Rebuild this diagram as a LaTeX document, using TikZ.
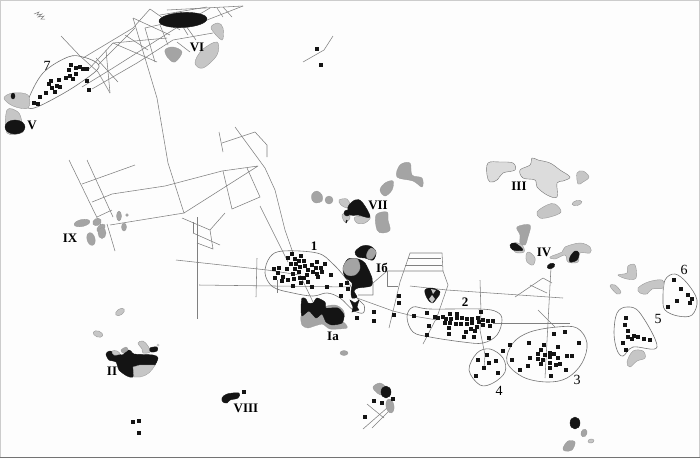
\documentclass[tikz,border=0pt]{standalone}
\usepackage{fontspec}
\setmainfont{Liberation Serif}
\definecolor{paper}{HTML}{FDFDFD}
\definecolor{roadc}{HTML}{808080}
\definecolor{palec}{HTML}{DCDCDC}
\definecolor{lightc}{HTML}{C6C6C6}
\definecolor{midc}{HTML}{A4A4A4}
\definecolor{inkc}{HTML}{141414}
\tikzset{
  road/.style={draw=roadc,line width=0.55pt,line join=round},
  contour/.style={draw=black!55,line width=0.6pt},
  pale/.style={fill=palec,draw=black!55,line width=0.4pt},
  light/.style={fill=lightc,draw=black!40,line width=0.4pt},
  mid/.style={fill=midc,draw=black!40,line width=0.3pt},
  ink/.style={fill=inkc,draw=inkc,line width=0.4pt},
  sq/.style={fill=inkc,draw=none},
  roman/.style={font=\fontsize{13}{13}\selectfont\bfseries,text=black,inner sep=0pt},
  digit/.style={font=\fontsize{14}{14}\selectfont,text=black,inner sep=0pt},
  digitb/.style={font=\fontsize{13}{13}\selectfont\bfseries,text=black,inner sep=0pt}
}
\newcommand{\blobby}[2]{\path[#1] plot[smooth cycle,tension=0.6] coordinates {#2};}
\begin{document}
\begin{tikzpicture}[x=1pt,y=-1pt]
\useasboundingbox (0,0) rectangle (700,459);
\fill[paper] (0,0) rectangle (700,459);
\draw[black!20,line width=1pt] (0.5,458) -- (0.5,0.5) -- (699.5,0.5) -- (699.5,458);
\draw[black!55,line width=1pt] (0,457.5) -- (700,457.5);
% scribble
\draw[black!50,line width=0.5pt] (34,14) -- (39,12) -- (37,15) -- (42,14) -- (38,17) -- (44,16) -- (41,19) -- (45,19);
% roads NW
\draw[road] (61,36) -- (80,56) -- (98,72) -- (110,93);
\draw[road] (133,18) -- (157,98) -- (168,163) -- (184,213) -- (258,166) -- (222,171) -- (165,186) -- (112,194) -- (92,202);
\draw[road] (184,213) -- (110,225);
\draw[road] (69,160) -- (103,230);
\draw[road] (87,160) -- (113,217);
\draw[road] (82,184) -- (135,165);
\draw[road] (97,217) -- (112,210);
\draw[road] (219,132) -- (223,152);
\draw[road] (222,143) -- (255,132) -- (267,145) -- (267,157);
\draw[road] (235,127) -- (265,168) -- (275,190) -- (285,230) -- (293,253);
\draw[road] (247,168) -- (260,197) -- (232,209) -- (223,171);
\draw[road] (260,206) -- (272,230) -- (288,262);
\draw[road] (182,218) -- (210,230) -- (225,213);
\draw[road] (197,217) -- (197,319);
\draw[road] (193,233) -- (220,245);
\draw[road] (197,243) -- (213,249) -- (210,230);
\draw[road] (193,222) -- (193,233);
\draw[road] (176,260) -- (267,270) -- (300,275);
\draw[road] (199,285) -- (350,287);
\draw[road] (257,258) -- (256,297);
\draw[road] (277,280) -- (277,293);
\draw[road] (300,275) -- (313,302);
% roads NE corridor
\draw[road] (83,58) -- (133,28) -- (150,9) -- (180,30);
\draw[road] (82,87) -- (113,68) -- (173,30) -- (210,8);
\draw[road] (92,89) -- (137,63) -- (173,40) -- (213,33);
\draw[road] (98,65) -- (135,28);
\draw[road] (88,70) -- (113,43) -- (167,38);
\draw[road] (113,43) -- (157,62);
\draw[road] (106,50) -- (110,93);
\draw[road] (133,18) -- (170,35);
\draw[road] (145,28) -- (155,62);
\draw[road] (145,28) -- (167,23);
\draw[road] (167,10) -- (243,6);
\draw[road] (160,15) -- (207,7);
\draw[road] (207,20) -- (243,6);
\draw[road] (217,8) -- (223,17);
\draw[road] (223,7) -- (232,17);
\draw[road] (183,27) -- (188,35);
\draw[road] (177,42) -- (190,52);
\draw[road] (96,58) -- (118,82);
\draw[road] (125,35) -- (148,50);
\draw[road] (160,25) -- (168,45);
\draw[road] (176,12) -- (196,40);
\draw[road] (303,62) -- (324,50) -- (333,36);
% roads E
\draw[road] (358,295) -- (373,295) -- (373,283) -- (387,271) -- (443,271);
\draw[road] (387,271) -- (387,286) -- (398,286);
\draw[road] (410,286) -- (447,290) -- (563,298);
\draw[road] (442,253) -- (410,253) -- (400,282) -- (389,328);
\draw[road] (442,253) -- (443,271) -- (448,285) -- (437,317) -- (423,344);
\draw[road] (408,258) -- (441,258);
\draw[road] (405,265) -- (442,265);
\draw[road] (480,280) -- (481,312) -- (480,330) -- (485,355) -- (484,368);
\draw[road] (357,298) -- (393,311) -- (413,316) -- (437,320);
\draw[road] (493,323) -- (570,323);
\draw[road] (551,267) -- (545,378);
\draw[road] (538,310) -- (555,327);
\draw[road] (515,297) -- (543,278) -- (552,283);
\draw[road] (530,285) -- (547,293);
\draw[road] (363,429) -- (387,408);
\draw[road] (372,428) -- (393,407);
\draw[road] (367,404) -- (384,418);
\draw[road] (107,224) -- (115,251);
% contours
\draw[contour] plot[smooth cycle,tension=0.6] coordinates {(28,100)(43,73)(68,57)(83,57)(97,63)(97,70)(77,85)(57,97)(37,107)(28,108)};
\draw[contour] plot[smooth cycle,tension=0.6] coordinates {(265,273)(270,257)(283,251)(317,253)(332,263)(347,280)(357,298)(364,305)(363,313)(353,310)(340,298)(327,293)(313,296)(293,293)(273,287)};
\draw[contour] plot[smooth cycle,tension=0.6] coordinates {(407,317)(413,307)(430,309)(480,309)(497,312)(502,320)(497,335)(483,343)(463,342)(430,337)(413,332)};
\draw[contour] plot[smooth cycle,tension=0.6] coordinates {(507,362)(513,343)(530,332)(557,327)(577,328)(587,343)(582,363)(567,378)(547,382)(523,377)};
\draw[contour] plot[smooth cycle,tension=0.6] coordinates {(469,370)(477,353)(490,349)(503,358)(505,372)(493,383)(480,385)};
\draw[contour] plot[smooth cycle,tension=0.6] coordinates {(614,333)(617,313)(627,307)(640,313)(657,347)(633,347)(623,356)(617,350)};
\draw[contour] plot[smooth cycle,tension=0.6] coordinates {(663,298)(665,280)(675,274)(687,283)(697,300)(692,315)(678,316)(665,310)};
% VI
\path[ink,rotate around={3:(183,20)}] (183,20) ellipse (24 and 7.5);
\blobby{light}{(211,28)(218,23)(223,28)(222,40)}
\blobby{light}{(195,63)(202,50)(217,42)(217,55)(203,68)}
\blobby{mid}{(165,50)(173,47)(182,52)(175,62)(168,58)}
% V
\blobby{light}{(4,98)(13,93)(28,95)(28,108)(13,106)}
\path[ink] (13,96) ellipse (2 and 3);
\blobby{light}{(7,110)(18,112)(22,122)(23,132)(7,133)}
\path[ink] (15,127) ellipse (10 and 7);
% IX
\path[mid,rotate around={12:(82,223)}] (82,223) ellipse (8 and 3.5);
\path[mid,rotate around={30:(97,222)}] (97,222) ellipse (4.5 and 3.5);
\path[mid,rotate around={40:(101,228)}] (101,228) ellipse (5 and 3);
\path[mid] (119,216) ellipse (2.5 and 5);
\path[mid] (124,227) ellipse (2.5 and 4);
\path[mid] (127,215) circle (1.5);
\path[mid,rotate around={15:(91,239)}] (91,239) ellipse (4 and 6.5);
\path[mid] (102,233) ellipse (4 and 5.5);
% VII
\blobby{mid}{(312,194)(317,191)(322,195)(322,201)(316,203)(312,200)}
\path[mid] (329,200) circle (4);
\blobby{mid}{(397,177)(400,165)(410,163)(412,175)(422,178)(422,187)(413,181)}
\blobby{mid}{(380,190)(385,183)(393,181)(392,190)(385,196)}
\blobby{light}{(339,200)(347,199)(350,205)(347,208)(341,205)}
\blobby{light}{(355,217)(370,217)(365,223)(357,223)}
\blobby{ink}{(348,207)(355,200)(362,202)(370,217)(358,215)(350,215)}
\blobby{light}{(342,215)(347,212)(350,218)(345,222)}
\path[ink] (347,213) circle (3);
\draw[inkc,line width=1.2pt] (347,220) -- (346,223);
\blobby{mid}{(376,215)(387,212)(388,220)(390,230)(383,233)(377,230)}
% III
\blobby{pale}{(488,163)(500,162)(513,163)(515,170)(503,173)(497,180)(490,182)(487,175)}
\blobby{pale}{(520,170)(530,165)(532,158)(538,160)(550,163)(560,170)(570,177)(563,181)(557,183)(557,197)(547,195)(537,187)(535,180)(523,178)}
\blobby{light}{(577,173)(583,171)(589,177)(583,182)(578,184)}
\path[light,rotate around={15:(577,203)}] (577,203) ellipse (5 and 2.5);
\blobby{light}{(537,212)(547,205)(555,204)(561,212)(550,217)(540,218)}
% IV group
\blobby{mid}{(517,227)(530,225)(528,237)(525,245)(520,243)(520,235)}
\blobby{light}{(514,243)(522,245)(524,252)(515,252)}
\blobby{ink}{(510,245)(515,243)(523,250)(513,250)}
\blobby{light}{(526,255)(529,252)(535,258)(533,265)(527,262)}
\blobby{light}{(550,257)(562,252)(565,247)(580,243)(590,247)(590,253)(580,253)(578,262)(568,262)(565,255)(555,259)}
\blobby{ink}{(570,257)(575,251)(579,253)(577,260)(570,262)}
\path[ink,rotate around={25:(551,266)}] (551,266) ellipse (4 and 2.5);
% right
\blobby{light}{(618,275)(627,273)(628,266)(635,265)(636,278)(627,279)}
\blobby{light}{(610,286)(615,285)(621,292)(617,294)}
\blobby{light}{(638,288)(648,282)(662,280)(663,288)(652,289)(647,294)(640,293)}
\blobby{light}{(627,362)(633,351)(643,351)(645,358)(637,361)(630,367)}
\path[ink] (575,423) ellipse (5 and 6);
\path[mid,rotate around={-20:(584,433)}] (584,433) ellipse (3 and 4);
\path[light,rotate around={10:(591,441)}] (591,441) ellipse (3 and 2);
\blobby{mid}{(563,448)(568,441)(575,442)(572,450)(565,451)}
% lower middle group
\blobby{mid}{(373,387)(380,383)(386,388)(383,395)(377,393)}
\path[ink] (386,392) ellipse (5 and 6);
\path[mid,rotate around={10:(390,406)}] (390,406) ellipse (4 and 7);
\path[mid] (344,353) ellipse (4 and 2.5);
% II
\path[light,rotate around={35:(120,312)}] (120,312) ellipse (5 and 3);
\path[light,rotate around={-20:(98,334)}] (98,334) ellipse (5 and 3);
\path[ink] plot[smooth cycle,tension=0.45] coordinates {(106,354)(110,351)(122,355)(127,350)(131,351)(134,354)(153,355)(158,358)(153,367)(140,366)(134,368)(133,377)(127,376)(119,370)(116,362)(109,360)};
\path[fill=lightc,draw=black!40,line width=0.3pt] (133,367) -- (140,365) -- (155,365) .. controls (152,371) and (147,376) .. (140,377) -- (134,377) -- cycle;
\blobby{light}{(112,351)(117,351)(120,354)(114,355)}
\blobby{mid}{(121,350)(126,347)(128,350)(123,353)}
\blobby{light}{(138,343)(143,341)(148,346)(150,352)(143,353)(142,349)}
\blobby{ink}{(150,348)(157,347)(157,351)(151,352)}
\path[fill=lightc] (158,345) circle (1.5);
% VIII
\blobby{ink}{(222,398)(227,394)(239,393)(238,398)(230,400)(227,403)(223,402)}
% Ia
\path[mid] plot[smooth cycle,tension=0.4] coordinates {(301,316)(309,309)(316,316)(322,312)(328,322)(343,322)(347,328)(330,329)(322,324)(308,328)(302,325)};
\blobby{mid}{(325,307)(335,305)(343,310)(344,317)(337,309)}
\path[ink,line join=round] plot[smooth cycle,tension=0.4] coordinates {(302,298)(306,299)(308,303)(313,303)(317,298)(325,302)(326,308)(338,308)(344,315)(342,323)(332,325)(326,322)(322,314)(316,318)(309,311)(302,316)(301,308)};
% Ib
\blobby{ink}{(355,252)(362,246)(370,246)(376,252)(373,260)(365,258)(358,257)}
\blobby{mid}{(367,253)(371,248)(376,252)(372,259)(367,258)}
\path[ink] plot[smooth cycle,tension=0.45] coordinates {(343,268)(348,259)(358,259)(365,263)(372,278)(371,286)(358,288)(354,291)(357,297)(352,298)(351,292)(352,283)(345,277)};
\blobby{mid}{(343,268)(348,260)(357,259)(360,268)(355,275)(347,275)}
\path[ink] (350,300) -- (355,303) -- (359,300) -- (357,307) -- (359,310) -- (352,312) -- (353,307) -- cycle;
% heart
\blobby{ink}{(425,290)(432,288)(440,292)(437,298)(432,303)(427,298)}
\path[fill=lightc] (429,299) -- (432,295) -- (435,299) -- (432,303) -- cycle;
\path[fill=lightc] (431,289) -- (436,290) -- (433,294) -- cycle;
% squares
\foreach \sx/\sy in {317/49,321/65,
71/65,69/70,76/68,80/67,83/69,87/69,76/74,70/76,66/78,73/79,59/80,51/81,49/84,87/81,89/90,52/88,57/86,60/87,55/92,46/93,40/97,34/103,38/104,
292/254,301/256,288/258,295/259,299/261,304/261,317/262,291/264,296/264,300/267,305/266,312/265,325/264,274/269,279/268,287/269,295/269,308/270,316/268,321/268,278/273,293/274,299/272,307/275,313/272,317/274,322/272,331/275,283/277,275/278,288/280,294/279,300/278,304/278,318/277,282/281,301/283,308/282,293/286,312/287,327/287,341/285,347/283,348/289,341/296,
357/318,374/312,374/321,399/296,399/303,394/315,
414/316,427/313,481/312,429/326,427/335,435/317,438/318,443/317,446/319,450/314,457/314,451/319,457/318,462/318,467/319,472/319,478/318,483/320,488/321,493/321,445/323,450/323,456/324,461/324,467/324,472/323,479/322,483/325,490/326,449/328,466/332,471/329,475/331,477/327,449/334,464/337,474/337,489/338,
554/334,565/332,579/343,529/343,544/345,558/347,510/345,503/351,541/350,538/354,545/355,550/353,554/354,530/358,538/359,543/360,550/357,558/358,567/356,572/356,512/360,541/364,550/363,556/365,560/364,528/366,550/368,520/370,566/370,551/376,
487/355,478/360,496/361,489/363,484/368,498/373,476/376,
626/318,625/325,628/331,628/337,634/336,632/339,638/337,644/339,650/340,623/343,626/350,
674/280,681/289,688/295,692/299,690/303,677/301,668/307,
374/401,382/403,393/399,365/417,
244/392,133/422,139/421,139/433}
  {\fill[sq] (\sx-2.4,\sy-2.4) rectangle (\sx+2.4,\sy+2.4);}
% labels
\node[digit] (n7) at (47,66) {7};
\node[roman] (lV) at (32,125) {V};
\node[roman] (lVI) at (197,47) {VI};
\node[roman] (lVII) at (378,205) {VII};
\node[roman] (lIII) at (519,186) {III};
\node[roman] (lIX) at (70,238) {IX};
\node[roman] (lII) at (112,371) {II};
\node[roman] (lVIII) at (246,408) {VIII};
\node[roman] (lIa) at (333,336) {Ia};
\node[roman] (lIb) at (382,268) {Iб};
\node[roman] (lIV) at (544,252) {IV};
\node[digitb] (n1) at (314,246) {1};
\node[digitb] (n2) at (465,302) {2};
\node[digit] (n3) at (577,380) {3};
\node[digit] (n4) at (499,391) {4};
\node[digit] (n5) at (658,319) {5};
\node[digit] (n6) at (684,270) {6};
\end{tikzpicture}
\end{document}
